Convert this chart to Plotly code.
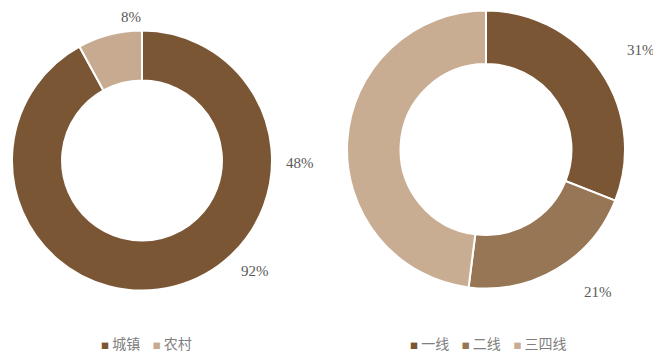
import plotly.graph_objects as go

area_labels = ["城镇", "农村"]
area_values = [92, 8]
area_colors = ["#7B5635", "#C7AA8F"]

tier_labels = ["一线", "二线", "三四线"]
tier_values = [31, 21, 48]
tier_colors = ["#7B5635", "#977656", "#C9AD93"]

# the page body adds an 8px margin, so lay out on a slightly smaller canvas
W, H, OFF = 653, 348, 8


def px(x, y):
    """Screen pixel position -> paper coordinates."""
    return (x - OFF) / W, 1 - (y - OFF) / H


def domain(left, top, right, bottom):
    x0, y1 = px(left, top)
    x1, y0 = px(right, bottom)
    return dict(x=[x0, x1], y=[y0, y1])


# where Excel dropped each percentage label (screen pixels)
area_label_pos = [(255, 271), (131, 17)]
tier_label_pos = [(641, 50), (598, 292), (300, 163)]

LABEL_FONT = dict(family="Liberation Serif, Times New Roman, serif", size=15, color="#595959")
LEGEND_FONT = dict(family="Noto Sans CJK SC, sans-serif", size=14, color="#7F7F7F")


def legend_text(names, colors):
    parts = [f"<span style='color:{c};font-size:8px'>■</span> {n}" for n, c in zip(names, colors)]
    return "    ".join(parts)


fig = go.Figure()
fig.add_trace(
    go.Pie(
        labels=area_labels,
        values=area_values,
        hole=0.615,
        sort=False,
        direction="clockwise",
        marker=dict(colors=area_colors, line=dict(color="white", width=2)),
        textinfo="none",
        showlegend=False,
        domain=domain(12, 30, 272, 291),
    )
)
fig.add_trace(
    go.Pie(
        labels=tier_labels,
        values=tier_values,
        hole=0.615,
        sort=False,
        direction="clockwise",
        marker=dict(colors=tier_colors, line=dict(color="white", width=2)),
        textinfo="none",
        showlegend=False,
        domain=domain(347, 10, 625, 289),
    )
)

for pos, value in zip(area_label_pos + tier_label_pos, area_values + tier_values):
    x, y = px(*pos)
    fig.add_annotation(x=x, y=y, xref="paper", yref="paper", text=f"{value}%",
                       xanchor="center", yanchor="middle",
                       showarrow=False, font=LABEL_FONT)

# legends as plain text rows under each donut
for (cx, cy), names, colors in [((146, 343), area_labels, area_colors),
                                ((488, 343), tier_labels, tier_colors)]:
    x, y = px(cx, cy)
    fig.add_annotation(x=x, y=y, xref="paper", yref="paper", showarrow=False,
                       xanchor="center", yanchor="middle",
                       text=legend_text(names, colors), font=LEGEND_FONT)

fig.update_layout(
    width=W,
    height=H,
    margin=dict(l=0, r=0, t=0, b=0),
    paper_bgcolor="white",
    plot_bgcolor="white",
    showlegend=False,
)

fig.write_html("out.html")
